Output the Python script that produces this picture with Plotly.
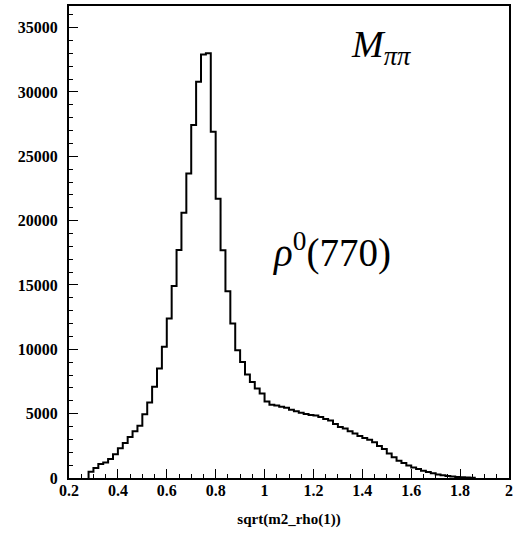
import numpy as np
import plotly.graph_objects as go

# Histogram of sqrt(m2_rho(1)); bins of width 0.02 starting at 0.28
bin_start = 0.28
bin_width = 0.02
counts = [480, 780, 1090, 1200, 1480, 1840, 2310, 2720, 3190, 3630,
          4070, 4950, 5860, 7100, 8500, 10190, 12390, 14930, 17710, 20610,
          23670, 27430, 30790, 32920, 33000, 26900, 21700, 17700, 14520, 12000,
          9930, 9020, 8040, 7470, 6950, 6560, 5950, 5700, 5630, 5540,
          5450, 5300, 5190, 5080, 4980, 4900, 4850, 4740, 4590, 4460,
          4200, 3970, 3840, 3630, 3450, 3270, 3100, 2970, 2780, 2480,
          2260, 1900, 1610, 1350, 1160, 980, 820, 690, 560, 470,
          360, 280, 220, 150, 110, 80, 50, 30, 20]

x_range = [0.2, 2.0]
y_range = [0, 36680]
x_dtick = 0.2
y_dtick = 5000
x_title = "sqrt(m2_rho(1))"

counts_arr = np.array(counts, dtype=float)
edges = bin_start + bin_width * np.arange(len(counts_arr) + 1)
xs = np.concatenate([[edges[0]], edges])
ys = np.concatenate([[0.0], counts_arr, [0.0]])

fig = go.Figure()
fig.add_trace(go.Scatter(
    x=xs, y=ys, mode="lines", line=dict(shape="hv", color="black", width=2),
    hoverinfo="skip", showlegend=False,
))

SERIF = "Liberation Serif, Times New Roman, serif"
MATH = "Liberation Serif, Times New Roman, serif"
tickfont = dict(family=SERIF, size=16, color="black", weight="bold")

fig.update_layout(
    width=516, height=533,
    margin=dict(l=69, r=3, t=6, b=55),
    paper_bgcolor="white", plot_bgcolor="white",
    showlegend=False,
    xaxis=dict(
        range=x_range, tick0=x_range[0], dtick=x_dtick,
        ticks="inside", ticklen=9, tickwidth=1.2, tickcolor="black",
        minor=dict(tick0=x_range[0], dtick=0.05, ticks="inside", ticklen=4,
                   tickwidth=1.2, tickcolor="black"),
        showline=True, linecolor="black", linewidth=2, mirror=True,
        showgrid=False, zeroline=False, tickfont=tickfont,
        ticklabelstandoff=-3,
        title=dict(text=x_title, font=dict(family=SERIF, size=15,
                                           color="black", weight="bold"),
                   standoff=15),
    ),
    yaxis=dict(
        range=y_range, tick0=0, dtick=y_dtick, tickformat="d",
        ticks="inside", ticklen=9, tickwidth=1.2, tickcolor="black",
        minor=dict(tick0=0, dtick=1000, ticks="inside", ticklen=4,
                   tickwidth=1.2, tickcolor="black"),
        showline=True, linecolor="black", linewidth=2, mirror=True,
        showgrid=False, zeroline=False, tickfont=tickfont,
        ticklabelstandoff=6,
    ),
    annotations=[
        dict(x=1.475, y=33500, xref="x", yref="y", showarrow=False,
             text="<i>M</i><sub><i>ππ</i></sub>",
             font=dict(family=MATH, size=38, color="black")),
        dict(x=1.275, y=17700, xref="x", yref="y", showarrow=False,
             text="<i>ρ</i><sup>0</sup>(770)",
             font=dict(family=MATH, size=39, color="black")),
    ],
)

fig.write_html("out.html", config={"displayModeBar": False},
               post_script="document.body.style.margin='0px';document.body.style.overflow='hidden';")
